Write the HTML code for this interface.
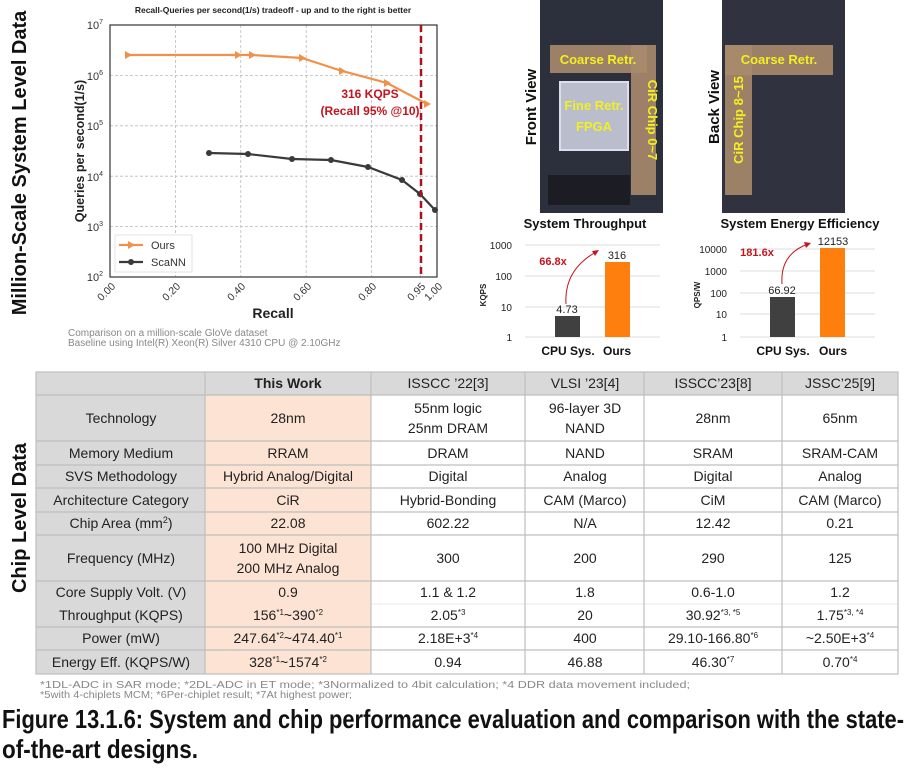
<!DOCTYPE html>
<html><head><meta charset="utf-8"><style>
html,body{margin:0;padding:0;background:#fff}
svg{display:block}
text{font-family:"Liberation Sans",sans-serif}
</style></head><body>
<svg width="911" height="774" viewBox="0 0 911 774" xmlns="http://www.w3.org/2000/svg">
<text transform="translate(26,163) rotate(-90)" text-anchor="middle" font-size="20" font-weight="bold" fill="#111">Million-Scale System Level Data</text>
<text transform="translate(26,518) rotate(-90)" text-anchor="middle" font-size="20" font-weight="bold" fill="#111">Chip Level Data</text>

<text x="273" y="13" text-anchor="middle" font-size="8.5" font-weight="bold" fill="#222">Recall-Queries per second(1/s) tradeoff - up and to the right is better</text>
<g stroke="#bbb" stroke-dasharray="3,2" stroke-width="0.8">
<line x1="110" y1="75.4" x2="437" y2="75.4"/><line x1="110" y1="125.8" x2="437" y2="125.8"/><line x1="110" y1="176.2" x2="437" y2="176.2"/><line x1="110" y1="226.6" x2="437" y2="226.6"/>
<line x1="175.4" y1="25" x2="175.4" y2="277"/><line x1="240.8" y1="25" x2="240.8" y2="277"/><line x1="306.2" y1="25" x2="306.2" y2="277"/><line x1="371.6" y1="25" x2="371.6" y2="277"/><line x1="420.6" y1="25" x2="420.6" y2="277"/>
</g>
<rect x="110" y="25" width="327" height="252" fill="none" stroke="#333" stroke-width="1.2"/>
<g font-size="11" fill="#333" text-anchor="end">
<text x="103" y="29">10<tspan font-size="7" dy="-5">7</tspan></text>
<text x="103" y="80">10<tspan font-size="7" dy="-5">6</tspan></text>
<text x="103" y="130">10<tspan font-size="7" dy="-5">5</tspan></text>
<text x="103" y="181">10<tspan font-size="7" dy="-5">4</tspan></text>
<text x="103" y="231">10<tspan font-size="7" dy="-5">3</tspan></text>
<text x="103" y="281">10<tspan font-size="7" dy="-5">2</tspan></text>
</g>
<g font-size="10.5" fill="#333" text-anchor="end">
<text transform="translate(116,287) rotate(-45)">0.00</text>
<text transform="translate(181,287) rotate(-45)">0.20</text>
<text transform="translate(246,287) rotate(-45)">0.40</text>
<text transform="translate(312,287) rotate(-45)">0.60</text>
<text transform="translate(377,287) rotate(-45)">0.80</text>
<text transform="translate(426,287) rotate(-45)">0.95</text>
<text transform="translate(443,287) rotate(-45)">1.00</text>
</g>
<text x="273" y="318" text-anchor="middle" font-size="14" font-weight="bold" fill="#222">Recall</text>
<text transform="translate(84,151) rotate(-90)" text-anchor="middle" font-size="12.5" font-weight="bold" fill="#222">Queries per second(1/s)</text>
<polyline points="128,55 238,55 252,55 302,58 342,71 387,83 427,104" fill="none" stroke="#f0914a" stroke-width="2.2"/>
<g fill="#f0914a"><path d="M125,51 L132,55 L125,59Z"/><path d="M235,51 L242,55 L235,59Z"/><path d="M249,51 L256,55 L249,59Z"/><path d="M299,54 L306,58 L299,62Z"/><path d="M339,67 L346,71 L339,75Z"/><path d="M384,79 L391,83 L384,87Z"/><path d="M424,100 L431,104 L424,108Z"/></g>
<polyline points="209,153 248,154 292,159 331,160 368,167 402,180 420,194 435,210" fill="none" stroke="#3a3a3a" stroke-width="2.2"/>
<g fill="#3a3a3a"><circle cx="209" cy="153" r="3"/><circle cx="248" cy="154" r="3"/><circle cx="292" cy="159" r="3"/><circle cx="331" cy="160" r="3"/><circle cx="368" cy="167" r="3"/><circle cx="402" cy="180" r="3"/><circle cx="420" cy="194" r="3"/><circle cx="435" cy="210" r="3"/></g>
<line x1="421" y1="25" x2="421" y2="277" stroke="#b0101e" stroke-width="2.5" stroke-dasharray="7,4"/>
<text x="370" y="98" text-anchor="middle" font-size="12" font-weight="bold" fill="#c4141e">316 KQPS</text>
<text x="370" y="115" text-anchor="middle" font-size="12" font-weight="bold" fill="#c4141e">(Recall 95% @10)</text>
<rect x="115" y="235" width="77" height="37" fill="#fff" stroke="#ddd" stroke-width="0.8"/>
<line x1="119" y1="245" x2="143" y2="245" stroke="#f0914a" stroke-width="2.2"/><path d="M128,241 L135,245 L128,249Z" fill="#f0914a"/>
<line x1="119" y1="262" x2="143" y2="262" stroke="#3a3a3a" stroke-width="2.2"/><circle cx="131" cy="262" r="3" fill="#3a3a3a"/>
<text x="151" y="249" font-size="11" fill="#333">Ours</text>
<text x="151" y="266" font-size="11" fill="#333">ScaNN</text>
<text x="68" y="336" font-size="10" fill="#888">Comparison on a million-scale GloVe dataset</text>
<text x="68" y="346" font-size="10" fill="#888">Baseline using Intel(R) Xeon(R) Silver 4310 CPU @ 2.10GHz</text>

<rect x="540" y="0" width="123" height="213" fill="#2c2f3c"/>
<rect x="548" y="175" width="82" height="30" fill="#1c1d24"/>
<rect x="560" y="82" width="68" height="68" fill="#b9bdcc" stroke="#dde" stroke-width="2"/>
<rect x="550" y="45" width="97" height="28" fill="#a88a6c" opacity="0.9"/>
<rect x="631" y="45" width="25" height="150" fill="#a88a6c" opacity="0.9"/>
<text x="598" y="64" text-anchor="middle" font-size="13" font-weight="bold" fill="#f2f020">Coarse Retr.</text>
<text x="594" y="110" text-anchor="middle" font-size="13" font-weight="bold" fill="#f2f020">Fine Retr.</text>
<text x="594" y="131" text-anchor="middle" font-size="13" font-weight="bold" fill="#f2f020">FPGA</text>
<text transform="translate(648,120) rotate(90)" text-anchor="middle" font-size="13" font-weight="bold" fill="#f2f020">CiR Chip 0~7</text>
<text transform="translate(536,107) rotate(-90)" text-anchor="middle" font-size="15" font-weight="bold" fill="#111">Front View</text>
<rect x="722" y="0" width="123" height="213" fill="#30333f"/>
<rect x="725" y="45" width="108" height="30" fill="#a88a6c" opacity="0.9"/>
<rect x="725" y="45" width="27" height="150" fill="#a88a6c" opacity="0.9"/>
<text x="779" y="64" text-anchor="middle" font-size="13" font-weight="bold" fill="#f2f020">Coarse Retr.</text>
<text transform="translate(743,120) rotate(-90)" text-anchor="middle" font-size="13" font-weight="bold" fill="#f2f020">CiR Chip 8~15</text>
<text transform="translate(719,107) rotate(-90)" text-anchor="middle" font-size="15" font-weight="bold" fill="#111">Back View</text>

<text x="585" y="228" text-anchor="middle" font-size="13" font-weight="bold" fill="#111">System Throughput</text>
<g stroke="#ddd" stroke-width="1"><line x1="525" y1="245" x2="660" y2="245"/><line x1="525" y1="276" x2="660" y2="276"/><line x1="525" y1="307" x2="660" y2="307"/><line x1="525" y1="337" x2="660" y2="337"/></g>
<g font-size="10" fill="#222" text-anchor="end"><text x="512" y="249">1000</text><text x="512" y="280">100</text><text x="512" y="311">10</text><text x="512" y="341">1</text></g>
<text transform="translate(486,295) rotate(-90)" text-anchor="middle" font-size="8" font-weight="bold" fill="#222">KQPS</text>
<rect x="555" y="316" width="25" height="21" fill="#404040"/>
<rect x="605" y="262" width="25" height="75" fill="#ff7f0e"/>
<text x="567" y="313" text-anchor="middle" font-size="11" fill="#222">4.73</text>
<text x="617" y="259" text-anchor="middle" font-size="11" fill="#222">316</text>
<text x="553" y="265" text-anchor="middle" font-size="11" font-weight="bold" fill="#c4141e">66.8x</text>
<path d="M566,304 Q564,270 596,252" fill="none" stroke="#c4141e" stroke-width="1"/><path d="M599,250 L592,251 L595,256Z" fill="#c4141e"/>
<text x="568" y="355" text-anchor="middle" font-size="12" font-weight="bold" fill="#111">CPU Sys.</text>
<text x="617" y="355" text-anchor="middle" font-size="12" font-weight="bold" fill="#111">Ours</text>

<text x="800" y="228" text-anchor="middle" font-size="13" font-weight="bold" fill="#111">System Energy Efficiency</text>
<g stroke="#ddd" stroke-width="1"><line x1="740" y1="249" x2="875" y2="249"/><line x1="740" y1="271" x2="875" y2="271"/><line x1="740" y1="293" x2="875" y2="293"/><line x1="740" y1="314" x2="875" y2="314"/><line x1="740" y1="337" x2="875" y2="337"/></g>
<g font-size="10" fill="#222" text-anchor="end"><text x="727" y="253">10000</text><text x="727" y="275">1000</text><text x="727" y="297">100</text><text x="727" y="318">10</text><text x="727" y="341">1</text></g>
<text transform="translate(700,295) rotate(-90)" text-anchor="middle" font-size="8" font-weight="bold" fill="#222">QPS/W</text>
<rect x="770" y="297" width="25" height="40" fill="#404040"/>
<rect x="820" y="248" width="25" height="89" fill="#ff7f0e"/>
<text x="782" y="294" text-anchor="middle" font-size="11" fill="#222">66.92</text>
<text x="833" y="245" text-anchor="middle" font-size="11" fill="#222">12153</text>
<text x="757" y="256" text-anchor="middle" font-size="11" font-weight="bold" fill="#c4141e">181.6x</text>
<path d="M782,284 Q780,254 808,244" fill="none" stroke="#c4141e" stroke-width="1"/><path d="M811,243 L804,242 L806,248Z" fill="#c4141e"/>
<text x="783" y="355" text-anchor="middle" font-size="12" font-weight="bold" fill="#111">CPU Sys.</text>
<text x="833" y="355" text-anchor="middle" font-size="12" font-weight="bold" fill="#111">Ours</text>

<!-- table -->
<rect x="36" y="372" width="862" height="23" fill="#d9d9d9"/>
<rect x="36" y="395" width="169" height="279" fill="#d9d9d9"/>
<rect x="205" y="395" width="166" height="279" fill="#fce3d3"/>
<line x1="371" y1="604" x2="898" y2="604" stroke="#e8e8e8" stroke-width="1"/>
<g stroke="#bfbfbf" stroke-width="1.2" fill="none">
<rect x="36" y="372" width="862" height="302"/>
<line x1="36" y1="395" x2="898" y2="395"/><line x1="36" y1="441" x2="898" y2="441"/><line x1="36" y1="465" x2="898" y2="465"/><line x1="36" y1="488" x2="898" y2="488"/><line x1="36" y1="512" x2="898" y2="512"/><line x1="36" y1="535" x2="898" y2="535"/><line x1="36" y1="581" x2="898" y2="581"/><line x1="36" y1="627" x2="898" y2="627"/><line x1="36" y1="650" x2="898" y2="650"/>
<line x1="205" y1="372" x2="205" y2="674"/><line x1="371" y1="372" x2="371" y2="674"/><line x1="525" y1="372" x2="525" y2="674"/><line x1="644" y1="372" x2="644" y2="674"/><line x1="782" y1="372" x2="782" y2="674"/>
</g>
<g font-size="14" fill="#222" text-anchor="middle">
<text x="288" y="388" font-weight="bold">This Work</text><text x="448" y="388">ISSCC ’22[3]</text><text x="585" y="388">VLSI ’23[4]</text><text x="713" y="388">ISSCC’23[8]</text><text x="840" y="388">JSSC’25[9]</text>
<text x="121" y="423">Technology</text><text x="288" y="423">28nm</text><text x="448" y="413">55nm logic</text><text x="448" y="433">25nm DRAM</text><text x="585" y="413">96-layer 3D</text><text x="585" y="433">NAND</text><text x="713" y="423">28nm</text><text x="840" y="423">65nm</text>
<text x="121" y="458">Memory Medium</text><text x="288" y="458">RRAM</text><text x="448" y="458">DRAM</text><text x="585" y="458">NAND</text><text x="713" y="458">SRAM</text><text x="840" y="458">SRAM-CAM</text>
<text x="121" y="481">SVS Methodology</text><text x="288" y="481">Hybrid Analog/Digital</text><text x="448" y="481">Digital</text><text x="585" y="481">Analog</text><text x="713" y="481">Digital</text><text x="840" y="481">Analog</text>
<text x="121" y="505">Architecture Category</text><text x="288" y="505">CiR</text><text x="448" y="505">Hybrid-Bonding</text><text x="585" y="505">CAM (Marco)</text><text x="713" y="505">CiM</text><text x="840" y="505">CAM (Marco)</text>
<text x="121" y="528">Chip Area (mm<tspan font-size="9" dy="-5">2</tspan><tspan dy="5">)</tspan></text><text x="288" y="528">22.08</text><text x="448" y="528">602.22</text><text x="585" y="528">N/A</text><text x="713" y="528">12.42</text><text x="840" y="528">0.21</text>
<text x="121" y="563">Frequency (MHz)</text><text x="288" y="553">100 MHz Digital</text><text x="288" y="573">200 MHz Analog</text><text x="448" y="563">300</text><text x="585" y="563">200</text><text x="713" y="563">290</text><text x="840" y="563">125</text>
<text x="121" y="597">Core Supply Volt. (V)</text><text x="288" y="597">0.9</text><text x="448" y="597">1.1 &amp; 1.2</text><text x="585" y="597">1.8</text><text x="713" y="597">0.6-1.0</text><text x="840" y="597">1.2</text>
<text x="121" y="620">Throughput (KQPS)</text><text x="288" y="620">156<tspan font-size="8" dy="-5">*1</tspan><tspan dy="5">~390</tspan><tspan font-size="8" dy="-5">*2</tspan></text><text x="448" y="620">2.05<tspan font-size="8" dy="-5">*3</tspan></text><text x="585" y="620">20</text><text x="713" y="620">30.92<tspan font-size="8" dy="-5">*3, *5</tspan></text><text x="840" y="620">1.75<tspan font-size="8" dy="-5">*3, *4</tspan></text>
<text x="121" y="643">Power (mW)</text><text x="288" y="643">247.64<tspan font-size="8" dy="-5">*2</tspan><tspan dy="5">~474.40</tspan><tspan font-size="8" dy="-5">*1</tspan></text><text x="448" y="643">2.18E+3<tspan font-size="8" dy="-5">*4</tspan></text><text x="585" y="643">400</text><text x="713" y="643">29.10-166.80<tspan font-size="8" dy="-5">*6</tspan></text><text x="840" y="643">~2.50E+3<tspan font-size="8" dy="-5">*4</tspan></text>
<text x="121" y="667">Energy Eff. (KQPS/W)</text><text x="288" y="667">328<tspan font-size="8" dy="-5">*1</tspan><tspan dy="5">~1574</tspan><tspan font-size="8" dy="-5">*2</tspan></text><text x="448" y="667">0.94</text><text x="585" y="667">46.88</text><text x="713" y="667">46.30<tspan font-size="8" dy="-5">*7</tspan></text><text x="840" y="667">0.70<tspan font-size="8" dy="-5">*4</tspan></text>
</g>
<g font-size="10" fill="#888">
<text x="40" y="688" textLength="650" lengthAdjust="spacingAndGlyphs">*1DL-ADC in SAR mode; *2DL-ADC in ET mode; *3Normalized to 4bit calculation; *4 DDR data movement included;</text>
<text x="40" y="698" textLength="312" lengthAdjust="spacingAndGlyphs">*5with 4-chiplets MCM; *6Per-chiplet result; *7At highest power;</text>
</g>
<g font-size="26" font-weight="bold" fill="#111">
<text x="2" y="728" textLength="902" lengthAdjust="spacingAndGlyphs">Figure 13.1.6: System and chip performance evaluation and comparison with the state-</text>
<text x="2" y="758" textLength="196" lengthAdjust="spacingAndGlyphs">of-the-art designs.</text>
</g>
</svg>
</body></html>
